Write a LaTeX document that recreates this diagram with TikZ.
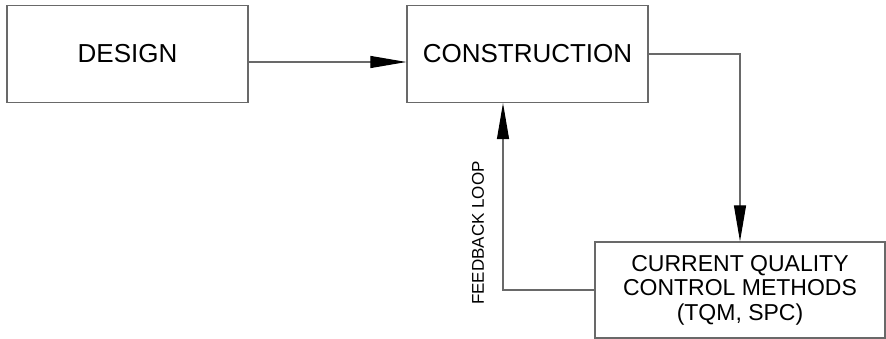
\documentclass[tikz,border=0pt]{standalone}
\usepackage{fontspec}
\setmainfont{Liberation Sans}
\usetikzlibrary{arrows.meta}
\definecolor{boxline}{RGB}{105,105,105}
\begin{document}
\begin{tikzpicture}[x=1pt,y=-1pt,
  box/.style={draw=boxline,line width=1.2pt,rectangle,inner sep=0pt,align=center},
  flow/.style={draw=boxline,line width=1.1pt,
    -{Triangle[length=36pt,width=12pt,black]}}]
  \useasboundingbox (0,0) rectangle (886,339);
  % process boxes
  \node[box,minimum width=241pt,minimum height=97pt,font=\fontsize{26}{30}\selectfont]
    (design) at (127.5,54) {DESIGN};
  \node[box,minimum width=241pt,minimum height=97pt,font=\fontsize{26}{30}\selectfont]
    (construction) at (527.5,54) {CONSTRUCTION};
  \node[box,minimum width=290pt,minimum height=96pt,font=\fontsize{23}{24.5}\selectfont]
    (qc) at (740,290) {CURRENT QUALITY\\CONTROL METHODS\\(TQM, SPC)};
  % connectors
  \coordinate (dout) at ([yshift=-8pt]design.east);
  \coordinate (cin) at ([yshift=-8pt]construction.west);
  \coordinate (fbin) at ([xshift=-24.5pt]construction.south);
  \draw[flow] (dout) -- (cin);
  \draw[flow] (construction.east) -| (qc.north);
  \draw[flow] (qc.west) -| (fbin);
  % loop label
  \node[rotate=90,font=\fontsize{17}{20}\selectfont,inner sep=0pt] (fblabel) at (478,233) {FEEDBACK LOOP};
\end{tikzpicture}
\end{document}
